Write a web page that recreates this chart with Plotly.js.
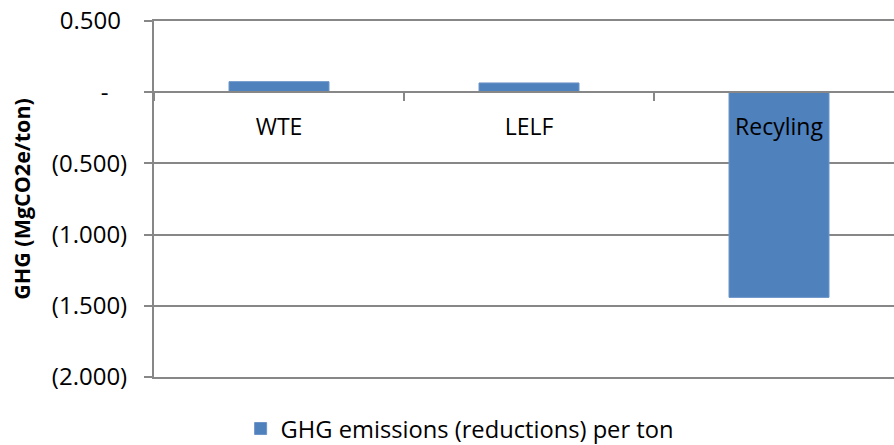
<!DOCTYPE html>
<html>
<head>
<meta charset="utf-8">
<script src="https://cdn.plot.ly/plotly-3.0.1.min.js"></script>
<style>html,body{margin:0;padding:0;background:#fff;}#chart{width:894px;height:445px;}</style>
</head>
<body>
<div id="chart"></div>
<script>
const categories = ["WTE", "LELF", "Recyling"];
const ghgValues = [0.074, 0.065, -1.441];
const seriesName = "GHG emissions (reductions) per ton";
const yTickValues = [0.5, 0, -0.5, -1.0, -1.5, -2.0];
// accounting-style labels (non-breaking spaces mimic the spreadsheet's alignment padding)
const yTickLabels = ["0.500\u00a0", "-\u00a0\u00a0\u00a0", "(0.500)", "(1.000)", "(1.500)", "(2.000)"];
const yTitle = "GHG (MgCO2e/ton)";

const yMin = -2.0, yMax = 0.5;
const xRange = [-0.5, 2.46];
const FONT = "Open Sans, sans-serif";
const GRAY = "#878787";

const trace = {
  type: "bar", x: categories, y: ghgValues, name: seriesName, width: 0.4,
  marker: {color: "#4F81BD", line: {color: "#6d95c8", width: 1}},
  showlegend: true, hoverinfo: "none"
};

const layout = {
  width: 894, height: 445,
  margin: {l: 154, r: 0, t: 21, b: 68, autoexpand: false},
  paper_bgcolor: "#fff", plot_bgcolor: "#fff",
  font: {family: FONT, size: 23, color: "#000"},
  xaxis: {
    type: "category", categoryarray: categories, range: xRange,
    showticklabels: false, ticks: "",
    showline: true, mirror: true, linecolor: GRAY, linewidth: 2,
    showgrid: false, zeroline: false
  },
  xaxis2: {
    type: "category", categoryorder: "array", categoryarray: categories, range: xRange,
    overlaying: "x", anchor: "free", position: (0 - yMin) / (yMax - yMin),
    showline: true, linecolor: GRAY, linewidth: 2,
    ticks: "outside", tickson: "boundaries", ticklen: 8, tickwidth: 2, tickcolor: GRAY,
    showgrid: false, zeroline: false,
    tickmode: "array", tickvals: categories, ticktext: categories,
    tickfont: {family: FONT, size: 23, color: "#000"},
    ticklabelstandoff: 14
  },
  yaxis: {
    range: [yMin, yMax],
    tickmode: "array", tickvals: yTickValues, ticktext: yTickLabels,
    showgrid: true, gridcolor: GRAY, gridwidth: 2,
    zeroline: false,
    showline: true, linecolor: GRAY, linewidth: 2,
    ticks: "outside", ticklen: 8, tickwidth: 2, tickcolor: GRAY,
    tickfont: {family: FONT, size: 24, color: "#000"},
    ticklabelstandoff: 12,
    title: {text: yTitle, font: {family: FONT, size: 21.5, color: "#000", weight: "bold"}, standoff: 15},
    automargin: false
  },
  showlegend: true,
  legend: {
    orientation: "h", x: 0.413, xanchor: "center", y: -0.145, yanchor: "middle",
    font: {family: FONT, size: 23.7, color: "#000"}, bgcolor: "rgba(0,0,0,0)"
  }
};

const helper = {
  type: "scatter", mode: "none", x: categories, y: [null, null, null],
  xaxis: "x2", yaxis: "y", showlegend: false, hoverinfo: "none"
};

Plotly.newPlot("chart", [trace, helper], layout, {displayModeBar: false, staticPlot: true});
</script>
</body>
</html>
